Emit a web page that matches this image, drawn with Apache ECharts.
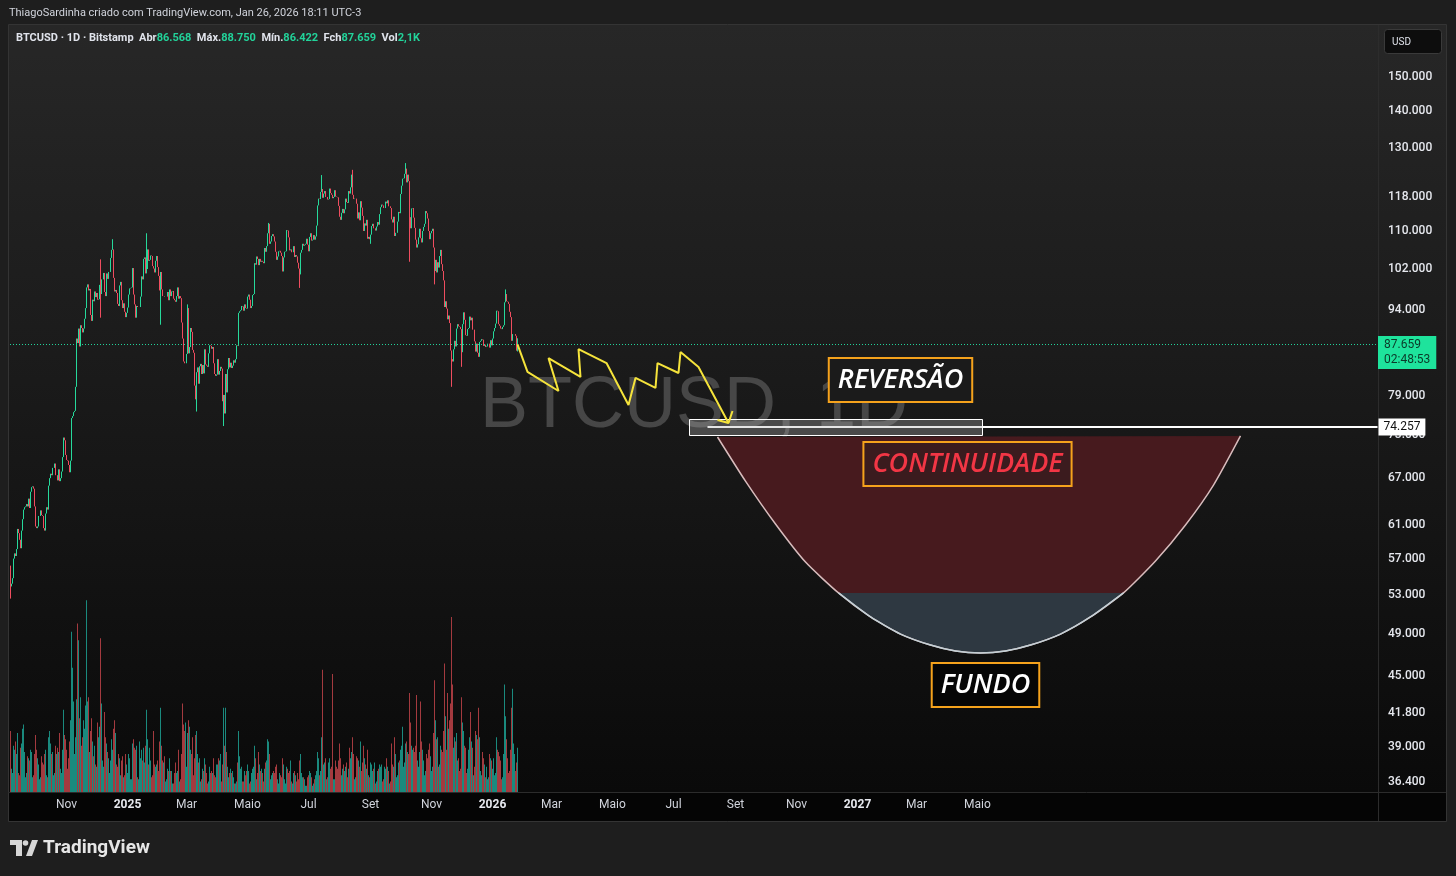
<!DOCTYPE html>
<html><head><meta charset="utf-8">
<script src="https://cdn.jsdelivr.net/npm/echarts@6/dist/echarts.min.js"></script>
<style>html,body{margin:0;padding:0;background:#1e1e1e;overflow:hidden}#c{width:1456px;height:876px}</style>
</head><body><div id="c"></div>
<script>
// ---------- DATA ----------
const startDate = '2024-09-06';
const dayCount = 1368;           // visible days on the time axis
const firstOpen = 56.2;          // open of the first candle (thousand USD)
// daily closes, thousand USD, 2024-09-06 .. 2026-01-26
const closes = [
53.9,54.2,54.8,57.0,57.6,57.3,58.1,60.5,60.0,59.2,58.2,60.3,61.7,62.9,63.2,63.3,63.6,63.3,64.3,63.1,65.2,65.8,65.9,65.6,63.3,
60.8,60.6,60.8,62.1,62.1,62.8,62.2,62.1,60.6,60.3,62.4,63.2,62.9,66.0,67.0,67.6,67.4,68.4,68.4,69.0,67.4,67.4,66.7,68.2,66.6,67.0,67.9,69.9,72.7,72.3,70.2,
69.5,69.4,68.8,67.8,69.4,75.6,75.9,76.5,76.7,80.5,88.7,87.9,90.5,87.3,91.1,90.6,89.8,90.5,92.3,94.3,98.3,98.9,97.7,98.0,93.0,91.9,95.9,95.6,97.5,96.4,
97.2,95.9,96.0,98.8,97.0,99.9,99.9,101.2,97.4,96.6,101.1,100.0,101.4,101.4,104.3,106.0,106.1,100.2,97.5,97.8,97.2,95.1,94.7,98.7,99.4,95.8,94.3,95.2,93.6,92.6,93.4,
94.4,96.9,98.1,98.2,98.3,102.2,96.9,95.0,92.5,94.7,94.5,94.5,94.5,96.5,100.5,99.9,104.1,104.4,101.1,102.0,106.1,103.7,103.9,104.8,104.7,102.6,102.1,101.3,103.7,104.7,102.4,
100.6,97.7,101.4,97.9,96.6,96.6,96.5,96.5,96.5,97.4,95.8,97.9,96.6,97.5,97.6,96.1,95.8,95.5,96.6,98.3,96.1,96.6,96.2,91.6,88.7,84.7,84.4,84.4,
86.0,94.3,86.1,87.2,90.6,89.9,86.7,86.2,80.7,78.5,82.9,83.7,81.0,83.9,84.3,82.6,84.1,82.7,86.8,84.2,84.0,83.8,86.1,87.5,87.4,86.9,87.2,84.4,82.6,82.3,82.5,
85.1,82.5,83.1,83.8,83.5,78.2,79.2,76.3,82.6,79.6,83.4,85.3,83.7,84.5,83.6,84.0,84.9,84.5,85.1,87.5,87.4,93.4,93.7,93.9,94.7,94.6,93.8,95.0,94.3,94.2,
96.5,96.9,95.9,94.3,94.7,96.8,97.0,103.2,102.9,104.6,104.1,102.8,104.1,103.5,103.7,103.5,103.2,106.4,105.6,106.8,109.6,111.7,107.3,107.8,109.0,109.4,108.9,107.8,105.6,103.9,104.6,
105.7,105.8,105.4,104.7,101.5,104.4,105.6,105.7,110.3,110.2,108.7,105.9,106.1,105.5,105.5,106.8,104.5,104.9,104.6,103.3,102.1,100.9,105.4,106.0,107.3,106.9,107.1,107.3,108.4,107.1,
105.7,108.8,109.6,108.0,108.2,109.2,108.2,108.9,111.3,115.9,117.5,117.4,119.1,119.8,117.7,118.7,119.3,117.9,117.9,117.3,117.4,119.9,118.8,118.4,117.6,117.9,119.5,118.0,117.9,117.8,115.8,
113.3,112.6,114.2,115.1,114.1,115.0,117.5,116.7,116.5,119.3,118.7,120.2,123.3,118.4,117.4,117.5,117.5,116.3,112.9,114.3,112.5,116.9,115.4,113.5,110.1,111.8,111.3,112.6,108.4,108.8,108.3,
109.3,111.2,111.7,110.7,110.7,110.2,111.1,112.1,111.5,113.9,115.5,116.1,115.9,115.3,115.3,116.8,116.4,117.1,115.7,115.7,115.3,112.7,112.0,113.3,109.0,109.7,109.7,112.2,114.4,114.1,
118.6,120.6,122.3,122.4,123.5,124.8,121.4,123.3,121.7,113.2,110.7,115.2,115.3,113.1,110.8,108.2,106.5,107.2,108.7,110.6,108.5,107.6,110.1,111.0,111.7,114.6,114.1,112.9,110.1,108.3,109.6,
110.1,110.6,106.5,101.6,103.9,101.3,103.4,102.3,104.7,106.0,103.0,101.6,99.7,94.5,95.6,94.2,92.2,92.9,91.5,86.6,85.1,84.7,86.8,88.3,87.3,90.5,91.3,90.9,90.8,90.4,
86.3,91.3,93.5,92.1,89.3,89.2,90.4,90.6,92.7,92.0,92.5,90.3,90.3,88.2,86.4,87.8,86.2,85.5,88.1,88.3,88.6,88.5,87.4,87.6,87.2,87.3,87.8,87.8,87.1,88.4,87.5,
88.7,90.0,90.6,91.4,93.8,93.7,91.3,91.0,90.5,90.4,90.8,91.1,95.4,97.0,95.6,95.5,95.1,93.6,92.6,88.3,89.5,89.5,89.5,89.2,86.568,87.659
];
// notable wick extremes [date, low, high] (thousand USD)
const wicks = [
['2024-09-06',52.6,null],['2024-12-05',92.5,104.0],['2024-12-17',null,108.3],['2025-01-20',null,109.6],
['2025-02-03',91.2,null],['2025-03-02',null,95.0],['2025-03-11',76.6,null],['2025-04-07',74.4,null],
['2025-05-22',null,111.9],['2025-06-22',98.2,null],['2025-07-14',null,123.2],['2025-08-14',null,124.5],
['2025-09-01',107.3,null],['2025-10-06',null,126.2],['2025-10-10',103.5,null],['2025-11-04',98.9,null],
['2025-11-21',80.5,null],['2025-12-01',83.8,null],['2026-01-14',null,97.9],['2026-01-26',86.422,88.75]
];
// daily volume, thousand BTC
const volumes = [
2.9,1.1,0.9,2.2,2.0,2.4,1.8,2.8,0.9,0.8,2.1,2.3,3.0,3.2,1.9,0.7,0.9,1.7,1.6,1.5,2.0,1.9,0.7,0.8,1.8,
2.7,2.0,1.6,1.3,0.6,0.7,1.7,1.4,1.3,1.8,2.0,0.8,0.7,2.6,2.9,2.3,1.8,1.9,0.8,0.9,2.2,1.8,2.1,1.9,2.8,1.1,0.9,2.0,3.9,2.7,2.5,
2.0,1.1,1.6,2.4,3.4,7.6,5.9,4.3,1.8,2.6,4.4,8.0,7.2,3.5,4.5,2.2,2.6,3.4,3.0,4.1,9.1,4.3,4.5,1.9,2.9,3.5,2.4,1.7,2.2,1.3,
1.2,3.3,2.6,3.1,7.3,4.2,1.5,1.2,3.8,2.6,2.3,1.9,1.6,0.9,1.5,2.5,2.0,3.0,3.4,2.8,1.3,1.2,1.8,1.6,0.8,1.5,1.7,0.7,0.8,1.8,1.3,
0.9,1.8,1.6,0.6,0.6,2.3,2.5,2.1,2.0,2.2,0.7,0.6,2.4,1.6,2.0,1.5,2.1,1.4,2.2,3.9,2.5,1.3,2.1,1.5,0.7,0.8,2.9,1.3,1.2,1.3,1.5,
1.0,2.4,4.0,2.2,1.5,1.4,1.7,0.5,0.6,1.1,1.0,1.6,1.0,1.0,0.4,0.4,0.9,1.4,0.9,1.0,2.0,0.5,0.6,1.8,4.2,3.2,2.9,3.3,
1.2,2.8,3.4,3.1,2.0,1.8,2.6,0.8,1.6,2.7,2.9,1.8,1.4,1.6,0.5,0.6,1.1,1.0,1.6,1.3,0.9,0.4,0.5,1.2,0.9,1.0,0.9,1.6,0.8,0.7,1.3,
1.3,1.6,1.5,1.8,0.5,1.3,4.0,2.2,4.0,1.9,1.2,0.7,0.9,1.1,0.9,1.0,0.7,0.4,0.4,0.5,1.4,2.9,1.7,1.1,1.2,0.5,0.5,1.0,0.8,1.0,
1.3,1.0,0.4,0.5,0.9,1.1,1.2,2.2,1.6,0.6,0.9,1.9,1.3,1.0,1.1,0.9,0.5,1.1,1.4,1.5,2.5,2.4,1.8,0.6,0.8,0.9,1.0,0.9,1.2,1.3,0.6,
0.4,0.9,0.8,0.7,1.6,1.3,0.6,0.4,1.2,1.1,0.9,1.0,1.5,0.5,0.4,0.9,1.0,0.8,0.5,0.9,0.6,1.5,1.8,0.9,0.7,0.7,0.6,0.3,0.3,0.7,
0.8,1.0,0.9,0.7,0.3,0.4,0.6,0.8,1.0,1.9,1.6,0.8,1.0,2.6,5.8,1.3,1.4,1.6,0.6,0.7,1.4,1.6,1.1,1.2,5.6,0.6,0.6,1.5,1.2,1.1,1.5,
2.3,1.6,0.8,1.1,1.3,1.0,1.2,1.4,0.7,1.1,2.1,1.6,1.9,2.6,1.8,0.6,0.7,1.7,1.6,1.5,1.2,2.4,1.0,1.4,2.2,1.6,1.3,1.1,2.0,0.8,0.7,
1.4,1.3,1.0,1.1,1.4,0.4,0.5,1.0,1.1,1.3,1.2,1.3,0.5,0.6,1.2,1.1,1.6,1.2,1.0,0.4,0.5,2.3,1.3,1.2,2.6,1.8,0.7,0.8,1.4,1.5,
2.0,2.2,3.1,1.2,1.4,2.3,2.4,1.9,1.8,4.7,3.3,2.2,2.0,2.1,1.9,2.2,4.6,1.5,1.2,1.9,4.3,2.4,2.0,1.5,0.8,1.0,1.8,1.6,2.0,2.3,1.7,
1.0,1.2,2.8,5.3,3.4,2.5,2.6,1.2,1.3,2.2,2.0,1.9,2.9,6.1,3.6,2.0,4.7,3.0,3.4,4.2,8.3,5.1,2.1,2.6,2.4,2.8,1.5,1.6,1.0,1.1,
4.5,3.3,2.9,2.2,2.1,0.9,1.1,2.0,2.6,3.8,2.4,2.1,0.8,1.2,2.9,2.7,2.5,4.0,2.6,1.0,0.8,1.9,1.6,1.3,0.7,1.2,0.6,0.7,1.8,1.6,1.5,
1.1,1.6,0.8,0.9,2.6,2.0,1.9,1.7,1.5,0.6,0.7,1.8,5.1,3.6,2.5,1.6,0.9,1.0,2.0,4.0,4.9,2.3,1.8,1.0,1.4,2.1
];
const priceTicks = [150000,140000,130000,118000,110000,102000,94000,79000,73000,67000,61000,57000,53000,49000,45000,41800,39000,36400];
const timeTickDates  = ['2024-11-01','2025-01-01','2025-03-01','2025-05-01','2025-07-01','2025-09-01','2025-11-01','2026-01-01','2026-03-01','2026-05-01','2026-07-01','2026-09-01','2026-11-01','2027-01-01','2027-03-01','2027-05-01'];
const timeTickLabels = ['Nov','2025','Mar','Maio','Jul','Set','Nov','2026','Mar','Maio','Jul','Set','Nov','2027','Mar','Maio'];
const lastTimer = '02:48:53';
const levelStart = '2026-08-04';
const levelPrice = 74257;
// projected zigzag path [date, USD]
const zigzag = [
['2026-01-26',87660],['2026-02-05',82940],['2026-03-08',79830],['2026-02-26',85280],['2026-03-30',82110],
['2026-03-28',86840],['2026-04-25',84440],['2026-05-17',77620],['2026-05-24',81950],['2026-06-13',80320],
['2026-06-15',84440],['2026-07-06',82770],['2026-07-08',86320],['2026-07-26',83770],['2026-08-25',74860]
];
const arrowHead = [['2026-08-14',75310],['2026-08-25',74860],['2026-08-29',76690]];
const zoneRect = {from:'2026-07-16', to:'2027-05-05', top:75460, bottom:73070};
// bowl curve [date, USD]
const bowlCurve = [
['2026-08-14',72780],['2026-09-11',66600],['2026-10-11',61100],['2026-11-10',56600],['2026-12-13',53200],
['2027-01-14',50690],['2027-02-13',48980],['2027-03-15',47910],['2027-04-09',47340],['2027-05-04',47150],
['2027-05-29',47340],['2027-06-23',47910],['2027-07-23',48980],['2027-08-22',50690],['2027-09-24',53200],
['2027-10-26',56720],['2027-11-25',60980],['2027-12-23',66070],['2028-01-19',72930]
];
const bowlSplit = 53200;
const annotations = [
{text:'REVERSÃO', date:'2027-02-13', price:81620, color:'#ffffff', bg:'#1b1b1b'},
{text:'CONTINUIDADE', date:'2027-04-21', price:68930, color:'#f23645', bg:'#3b1b1e'},
{text:'FUNDO', date:'2027-05-09', price:44220, color:'#ffffff', bg:'#060606'}
];

// ---------- BUILD ----------
function dayStr(base, add){const d=new Date(base+'T00:00:00Z');d.setUTCDate(d.getUTCDate()+add);return d.toISOString().slice(0,10);}
const categories = Array.from({length:dayCount},(_,i)=>dayStr(startDate,i));
const idx = new Map(categories.map((c,i)=>[c,i]));
const fmt = v => String(Math.round(v)).replace(/\B(?=(\d{3})+(?!\d))/g,'.');
const UP='#26d99b', DOWN='#ef4d5f', VUP='#1a8a7e', VDOWN='#a43a3f';
const wickMap = new Map(wicks.map(w=>[w[0],w]));
const opens = closes.map((c,i)=> i? closes[i-1] : firstOpen);
const candleData = closes.map((c,i)=>{
  const o=opens[i]; let lo=Math.min(o,c), hi=Math.max(o,c);
  const w=wickMap.get(categories[i]);
  if(w){ if(w[1]!=null) lo=Math.min(lo,w[1]); if(w[2]!=null) hi=Math.max(hi,w[2]); }
  return [o*1000,c*1000,lo*1000,hi*1000];
});
const volData = volumes.map((v,i)=>({value:v,itemStyle:{color: closes[i]>=opens[i]?VUP:VDOWN}}));
const last = candleData[candleData.length-1];
const lastVol = String(volumes[volumes.length-1]).replace('.',',')+'K';
const fmt3 = v => (v/1000).toFixed(3);
const tickMap = new Map(timeTickDates.map((d,i)=>[d,timeTickLabels[i]]));
const toXY = ([d,p]) => [idx.get(d), p];

const FONT = 'Roboto, "Noto Sans", sans-serif';
const chart = echarts.init(document.getElementById('c'), null, {renderer:'canvas'});
chart.setOption({
  backgroundColor:'#1e1e1e',
  animation:false,
  textStyle:{fontFamily:FONT},
  grid:{left:10,right:78,top:25,bottom:84,containLabel:false},
  xAxis:{type:'category',data:categories,boundaryGap:true,
    axisLine:{show:false},axisTick:{show:false},splitLine:{show:false},
    axisLabel:{interval:(i,v)=>tickMap.has(v),margin:7,color:'#d1d4dc',fontSize:12,
      formatter:v=>{const t=tickMap.get(v);return /^\d{4}$/.test(t)?'{y|'+t+'}':'{m|'+t+'}';},
      rich:{y:{fontWeight:'bold',fontSize:12,color:'#e6e8ee',fontFamily:FONT},m:{fontSize:12,color:'#d1d4dc',fontFamily:FONT}}}},
  yAxis:[
    {type:'log',logBase:10,min:35660,max:166560,position:'right',
     axisLine:{show:false},axisTick:{show:false},splitLine:{show:false},
     axisLabel:{customValues:priceTicks,formatter:v=>fmt(v),color:'#e6e8ee',fontSize:12,fontWeight:500,margin:10,fontFamily:FONT}},
    {type:'value',min:0,max:36.4,show:false}
  ],
  graphic:[
    {type:'rect',z:-10,shape:{x:8,y:25,width:1438,height:767},
     style:{fill:new echarts.graphic.LinearGradient(0,0,0,1,[{offset:0,color:'#272727'},{offset:0.5,color:'#191919'},{offset:1,color:'#0a0a0a'}])}},
    {type:'rect',z:-10,shape:{x:8,y:792,width:1438,height:29},style:{fill:'#050505'}},
    {type:'rect',z:-9,shape:{x:8.5,y:24.5,width:1438,height:797},style:{fill:null,stroke:'#343434',lineWidth:1}},
    {type:'line',z:-9,shape:{x1:1378.5,y1:25,x2:1378.5,y2:821},style:{stroke:'#2c2c2c',lineWidth:1}},
    {type:'line',z:-9,shape:{x1:8,y1:792.5,x2:1446,y2:792.5},style:{stroke:'#2c2c2c',lineWidth:1}},
    {type:'text',z:-5,x:694,y:407,style:{text:'BTCUSD, 1D',fill:'rgba(255,255,255,0.2)',font:'72px "Liberation Sans", Arial, sans-serif',align:'center',verticalAlign:'middle'}},
    {type:'text',x:9,y:13,style:{text:'ThiagoSardinha criado com TradingView.com, Jan 26, 2026 18:11 UTC-3',fill:'#d1d4dc',font:'11px '+FONT,verticalAlign:'middle'}},
    {type:'text',x:16,y:38,style:{
      text:'{w|BTCUSD · 1D · Bitstamp}  {w|Abr}{g|'+fmt3(last[0])+'}  {w|Máx.}{g|'+fmt3(last[3])+'}  {w|Mín.}{g|'+fmt3(last[2])+'}  {w|Fch}{g|'+fmt3(last[1])+'}  {w|Vol}{g|'+lastVol+'}',
      verticalAlign:'middle',font:'bold 11px '+FONT,fill:'#e0e3eb',
      rich:{w:{fill:'#e0e3eb',font:'bold 11px '+FONT},g:{fill:'#22d39a',font:'bold 11px '+FONT}}}},
    {type:'rect',shape:{x:1384.5,y:29.5,width:57,height:24,r:3},style:{fill:'#0d0d0d',stroke:'#3a3a3a',lineWidth:1}},
    {type:'text',x:1392,y:42,style:{text:'USD',fill:'#e0e3eb',font:'10px '+FONT,verticalAlign:'middle'}},
    // TradingView footer logo
    {type:'polygon',shape:{points:[[10,840],[22,840],[22,856],[16,856],[16,845],[10,845]]},style:{fill:'#d6d6d6'}},
    {type:'circle',shape:{cx:25.5,cy:843,r:2.8},style:{fill:'#d6d6d6'}},
    {type:'polygon',shape:{points:[[32,840],[38,840],[32,856],[26,856]]},style:{fill:'#d6d6d6'}},
    {type:'text',x:43,y:848,style:{text:'TradingView',fill:'#e6e6e6',font:'bold 19px '+FONT,verticalAlign:'middle'}}
  ],
  series:[
    {type:'bar',name:'vol',xAxisIndex:0,yAxisIndex:1,data:volData,barWidth:1,z:1,silent:true},
    {type:'candlestick',name:'BTCUSD',xAxisIndex:0,yAxisIndex:0,data:candleData,barWidth:1,z:3,silent:true,
     itemStyle:{color:UP,color0:DOWN,borderColor:UP,borderColor0:DOWN,borderWidth:1},
     markLine:{silent:true,symbol:['none','none'],animation:false,
       data:[{yAxis:last[1],lineStyle:{color:'#22d39a',type:[1,2],width:1},
         label:{show:true,position:'end',distance:0,formatter:fmt(last[1])+'\n'+lastTimer,backgroundColor:'#1ee39c',color:'#0b3a29',
           fontSize:12,lineHeight:15,padding:[2,6,1,6],offset:[0,8],fontFamily:FONT}}]}},
    {type:'custom',name:'bowl',z:4,silent:true,clip:false,
     data:[toXY(bowlCurve[0])],
     renderItem:(params,api)=>{
       const pts=bowlCurve.map(p=>api.coord(toXY(p)));
       const low=pts.filter((_,i)=>bowlCurve[i][1]<=bowlSplit);
       return {type:'group',children:[
         {type:'polygon',shape:{points:pts},style:{fill:'#471a1e'}},
         {type:'polygon',shape:{points:low},style:{fill:'#2e3841'}},
         {type:'polyline',shape:{points:pts,smooth:0.2},style:{stroke:'#d9bcbd',lineWidth:1.5,fill:null}},
         {type:'polyline',shape:{points:low,smooth:0.2},style:{stroke:'#c3d0d6',lineWidth:1.5,fill:null}}
       ]};
     }},
    {type:'custom',name:'zone',z:5,silent:true,
     data:[[idx.get(zoneRect.from),zoneRect.top]],
     renderItem:(params,api)=>{
       const a=api.coord([idx.get(zoneRect.from),zoneRect.top]);
       const b=api.coord([idx.get(zoneRect.to),zoneRect.bottom]);
       return {type:'rect',shape:{x:Math.round(a[0])+0.5,y:Math.round(a[1])+0.5,width:Math.round(b[0]-a[0]),height:Math.round(b[1]-a[1])},
         style:{fill:'rgba(175,175,175,0.33)',stroke:'#ffffff',lineWidth:1}};
     }},
    {type:'line',name:'zigzag',z:6,silent:true,data:zigzag.map(toXY),symbol:'none',
     lineStyle:{color:'#f5e33b',width:2},
     markLine:{silent:true,symbol:['none','none'],animation:false,
       data:[[{coord:[idx.get(levelStart),levelPrice],lineStyle:{color:'#ffffff',width:2,type:'solid'}},
              {coord:[dayCount-1,levelPrice],
               label:{show:true,position:'end',distance:1,formatter:fmt(levelPrice),backgroundColor:'#ffffff',color:'#111111',
                 fontSize:12,padding:[3,5,2,5],fontFamily:FONT}}]]}},
    {type:'line',name:'arrow',z:6,silent:true,data:arrowHead.map(toXY),symbol:'none',lineStyle:{color:'#f5e33b',width:2}},
    {type:'scatter',name:'labels',z:10,silent:true,symbolSize:1,itemStyle:{color:'rgba(0,0,0,0)',opacity:1},
     data:annotations.map(a=>({value:toXY([a.date,a.price]),
       label:{show:true,position:'inside',formatter:a.text,color:a.color,backgroundColor:a.bg,opacity:1,
         borderColor:'#f5a21c',borderWidth:2,padding:[3,8,3,8],lineHeight:36,fontSize:27,
         fontStyle:'italic',fontWeight:600,fontFamily:'"Open Sans", sans-serif'}}))}
  ]
});
</script></body></html>
